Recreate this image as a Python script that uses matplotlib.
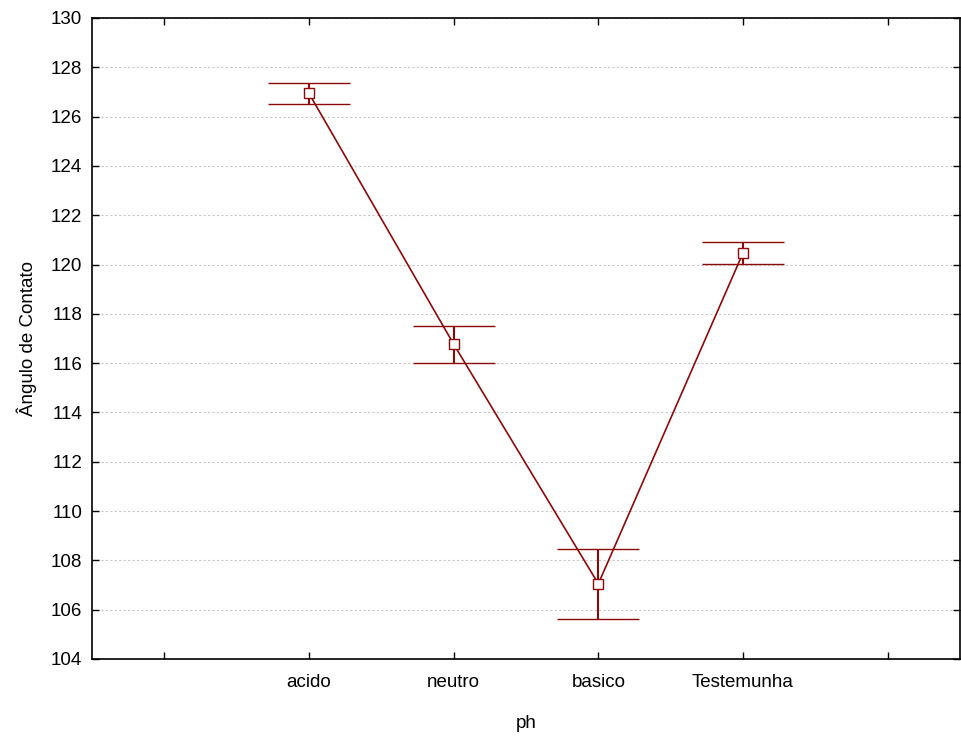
import matplotlib
matplotlib.use("Agg")
import matplotlib.pyplot as plt
import numpy as np

plt.rcParams['font.family'] = ['Liberation Sans', 'DejaVu Sans']

# group means and half-width of the intervals
groups = ["acido", "neutro", "basico", "Testemunha"]
means = [126.94, 116.77, 107.05, 120.47]
errs = [0.42, 0.75, 1.42, 0.44]

DARK_RED = "#8b0a0a"

fig = plt.figure(figsize=(9.61, 7.38), dpi=100)
ax = fig.add_axes([92/961, 79/738, 868/961, 641/738])

pos = np.arange(1, len(groups) + 1)
ax.errorbar(pos, means, yerr=errs, color=DARK_RED, lw=1.2,
            capsize=29.5, capthick=1.5, elinewidth=1.5,
            marker="s", markersize=6.5, markerfacecolor="white",
            markeredgecolor=DARK_RED, markeredgewidth=1, zorder=3)

ax.set_xlim(-0.5, len(groups) + 1.5)
ax.set_ylim(104, 130)
ax.set_yticks(np.arange(104, 131, 2))
ax.set_xticks(np.arange(0, len(groups) + 2))
ax.set_xticklabels([""] + groups + [""])

ax.yaxis.grid(True, linestyle=(0, (2, 2)), color="#c8c8c8", lw=0.8)
ax.set_axisbelow(True)

ax.tick_params(direction="in", top=True, right=True, length=5, width=1,
               labelsize=13.5, colors="black")
ax.tick_params(axis="x", pad=11)
ax.tick_params(axis="y", pad=7)
for s in ax.spines.values():
    s.set_linewidth(1.2)

ax.set_xlabel("ph", fontsize=13.5, labelpad=17)
ax.set_ylabel("Ângulo de Contato", fontsize=13.5, labelpad=10)

fig.savefig("out.png", dpi=100)
